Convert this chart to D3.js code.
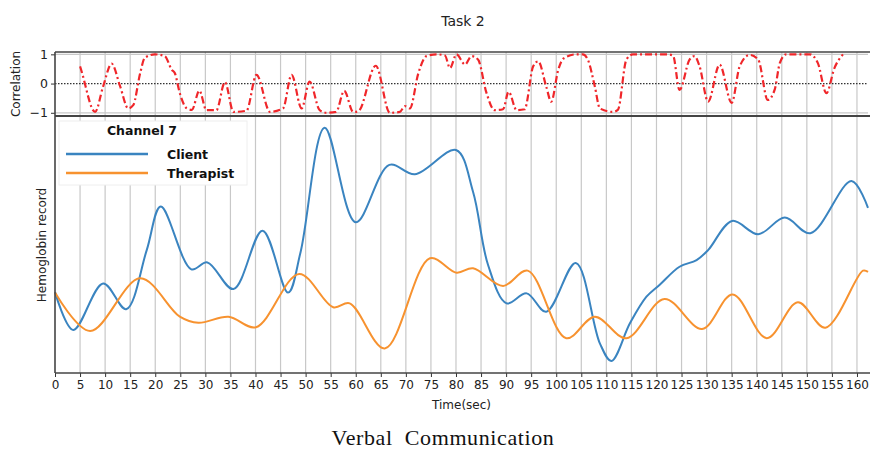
<!DOCTYPE html>
<html><head><meta charset="utf-8">
<script src="https://cdn.jsdelivr.net/npm/d3@7"></script>
<style>body{margin:0;background:#fff}svg{display:block}</style>
</head><body><svg id="c" width="870" height="450"></svg>
<script>
// ---- data ----
const clientT = [0,3.65,9.6,14.2,18.3,21.1,27.2,30.4,35.6,41.4,46.5,49,53.8,60,66.7,71.8,80,83.4,86.4,90.1,94.1,98,103.9,108.7,111,114.7,118,120.6,124.6,128,130.3,135.1,140.3,145.6,150.7,158.9,162.2];
const clientV = [3.16,1.68,3.50,2.49,4.80,6.50,4.05,4.32,3.28,5.56,3.14,4.73,9.58,5.89,8.13,7.76,8.71,7.08,4.22,2.72,3.11,2.39,4.30,1.16,0.47,1.94,2.98,3.44,4.15,4.41,4.80,5.94,5.42,6.07,5.46,7.50,6.45];
const therT = [0,7,17,24.9,28.6,34.6,40.1,48.7,55.5,58.8,65.8,74.8,80.1,83.4,89.4,94.3,102,107.7,114,121.6,129.1,135.2,142,148.2,153.7,161.2,162.2];
const therV = [3.14,1.64,3.70,2.20,1.96,2.20,1.79,3.87,2.57,2.72,0.96,4.48,3.92,4.09,3.40,4.00,1.36,2.20,1.36,2.89,1.72,3.07,1.36,2.76,1.77,4.00,3.95];
const corrT = [5,5.3,8,9.6,11.3,13,14.6,15.6,17,17.9,19.9,21.9,23.3,23.9,24.9,26.3,27.3,28.8,30.2,32.2,33.9,35.6,38.2,40.2,42.9,45.5,47.2,49.2,50.8,52.8,54.2,56.1,57.7,59.5,60.5,64,66.8,68.8,69.8,70.8,72.5,74.1,76.1,77.8,78.8,80.1,81.8,83.1,84.4,86.1,87.7,89.4,90.5,92.1,93.7,95.4,96.4,98,99,100.4,101.4,104,105.3,106.3,107.7,108.7,111.3,112.3,114,115.3,122,123.3,124.6,126.6,127.6,128.6,130.3,132.6,135,136.6,138.6,140.3,142.2,143.6,144.6,145.9,150.6,152.2,153.9,155.5,157.2];
const corrV = [0.59,0.42,-0.97,-0.10,0.68,-0.10,-0.85,-0.74,0.36,0.88,1.0,0.94,0.47,0.36,-0.33,-0.85,-0.90,-0.24,-0.91,-0.91,0.05,-0.97,-0.93,0.30,-0.97,-0.85,0.30,-0.85,0.07,-0.91,-1.0,-0.97,-0.25,-0.97,-0.95,0.61,-1.0,-0.97,-0.77,-0.85,0.36,0.94,1.0,0.96,0.53,1.0,0.65,0.94,0.82,-0.33,-0.91,-0.88,-0.28,-0.91,-0.88,0.59,0.76,-0.10,-0.62,0.47,0.85,1.0,1.0,0.82,-0.10,-0.85,-0.97,-0.90,0.82,1.0,1.0,0.96,-0.22,0.82,0.94,0.59,-0.62,0.65,-0.66,0.59,0.98,0.82,-0.56,-0.20,0.70,1.0,1.0,0.70,-0.33,0.53,1.0];
const xTicks = d3.range(0,161,5);
const corrTicks = [-1,0,1];
const seriesNames = ["Client","Therapist"];
const colors = ["#3a84c0","#f7922f"];

// ---- layout ----
const svg = d3.select("#c");
const L = 55, R = 868;
const top1 = 52, bot1 = 116, top2 = 117, bot2 = 373;
const x = d3.scaleLinear().domain([0,162.2]).range([L,R]);
const yc = d3.scaleLinear().domain([-1.11,1.08]).range([bot1,top1]);
const yh = d3.scaleLinear().domain([0,10]).range([bot2,top2]);
const font = "DejaVu Sans, sans-serif";

svg.append("text").attr("x",463).attr("y",26).attr("text-anchor","middle")
  .attr("font-family",font).attr("font-size",14).attr("fill","#222").text("Task 2");

// top panel grid
const g1 = svg.append("g");
g1.selectAll("line.v").data(xTicks.filter(d=>d>0)).join("line")
  .attr("x1",d=>x(d)).attr("x2",d=>x(d)).attr("y1",top1).attr("y2",bot1)
  .attr("stroke","#c8c8c8").attr("stroke-width",1.2);
g1.selectAll("line.h").data([-1,1]).join("line")
  .attr("x1",L).attr("x2",R).attr("y1",d=>yc(d)).attr("y2",d=>yc(d))
  .attr("stroke","#c8c8c8").attr("stroke-width",1.2);
g1.append("line").attr("x1",L).attr("x2",R).attr("y1",yc(0)).attr("y2",yc(0))
  .attr("stroke","#333").attr("stroke-width",1.2).attr("stroke-dasharray","1.5,1.5");
const cLine = d3.line().x((d,i)=>x(corrT[i])).y(d=>yc(d)).curve(d3.curveMonotoneX);
g1.append("path").attr("d",cLine(corrV)).attr("fill","none").attr("stroke","#f0262a")
  .attr("stroke-width",2.2).attr("stroke-dasharray","7,3,2,3");
// top axis ticks
const ay = d3.axisLeft(yc).tickValues(corrTicks).tickSize(4).tickFormat(d=>d<0?"\u22121":String(d));
const gay = svg.append("g").attr("transform",`translate(${L},0)`).call(ay);
gay.select(".domain").remove();
gay.selectAll("text").attr("font-family",font).attr("font-size",12.5).attr("fill","#222");
gay.selectAll("line").attr("stroke","#333");
svg.append("text").attr("transform",`translate(20,${(top1+bot1)/2}) rotate(-90)`)
  .attr("text-anchor","middle").attr("font-family",font).attr("font-size",12).attr("fill","#222").text("Correlation");

// bottom panel grid
const g2 = svg.append("g");
g2.selectAll("line").data(xTicks.filter(d=>d>0)).join("line")
  .attr("x1",d=>x(d)).attr("x2",d=>x(d)).attr("y1",top2).attr("y2",bot2)
  .attr("stroke","#c8c8c8").attr("stroke-width",1.2);
const hLine = (tt)=>d3.line().x((d,i)=>x(tt[i])).y(d=>yh(d)).curve(d3.curveCatmullRom.alpha(0.5));
g2.append("path").attr("d",hLine(clientT)(clientV)).attr("fill","none").attr("stroke",colors[0]).attr("stroke-width",2);
g2.append("path").attr("d",hLine(therT)(therV)).attr("fill","none").attr("stroke",colors[1]).attr("stroke-width",2);

// legend
const lg = svg.append("g");
lg.append("rect").attr("x",59).attr("y",121).attr("width",188).attr("height",64)
  .attr("fill","#fff").attr("stroke","#eeeeee");
lg.append("text").attr("x",142).attr("y",135).attr("text-anchor","middle").attr("font-family",font)
  .attr("font-weight","bold").attr("font-size",12.5).attr("fill","#111").text("Channel 7");
seriesNames.forEach((n,i)=>{
  const yy = 154 + i*19;
  lg.append("line").attr("x1",66).attr("x2",148).attr("y1",yy).attr("y2",yy).attr("stroke",colors[i]).attr("stroke-width",2.4);
  lg.append("text").attr("x",167).attr("y",yy+4.5).attr("font-family",font).attr("font-weight","bold")
    .attr("font-size",12.5).attr("fill","#111").text(n);
});

// x axis
const ax = d3.axisBottom(x).tickValues(xTicks).tickSize(4).tickFormat(d3.format("d"));
const gax = svg.append("g").attr("transform",`translate(0,${bot2})`).call(ax);
gax.select(".domain").remove();
gax.selectAll("text").attr("font-family",font).attr("font-size",12).attr("fill","#222");
gax.selectAll("line").attr("stroke","#333");
svg.append("text").attr("x",(L+R)/2).attr("y",409).attr("text-anchor","middle")
  .attr("font-family",font).attr("font-size",12).attr("fill","#222").text("Time(sec)");
svg.append("text").attr("transform",`translate(46,${(top2+bot2)/2}) rotate(-90)`)
  .attr("text-anchor","middle").attr("font-family",font).attr("font-size",12).attr("fill","#222").text("Hemoglobin record");

// spines
const sp = svg.append("g").attr("stroke","#444").attr("stroke-width",1.6);
sp.append("line").attr("x1",L).attr("x2",870).attr("y1",top1).attr("y2",top1);
sp.append("line").attr("x1",L).attr("x2",870).attr("y1",bot1).attr("y2",bot1).attr("stroke-width",2.2);
sp.append("line").attr("x1",L).attr("x2",L).attr("y1",top1).attr("y2",bot2);
sp.append("line").attr("x1",L).attr("x2",870).attr("y1",bot2).attr("y2",bot2);

svg.append("text").attr("x",443).attr("y",445).attr("text-anchor","middle")
  .attr("font-family","Liberation Serif, Times New Roman, serif").attr("font-size",22).attr("fill","#111")
  .attr("letter-spacing",0.6)
  .attr("xml:space","preserve").style("white-space","pre").text("Verbal  Communication");
</script></body></html>
